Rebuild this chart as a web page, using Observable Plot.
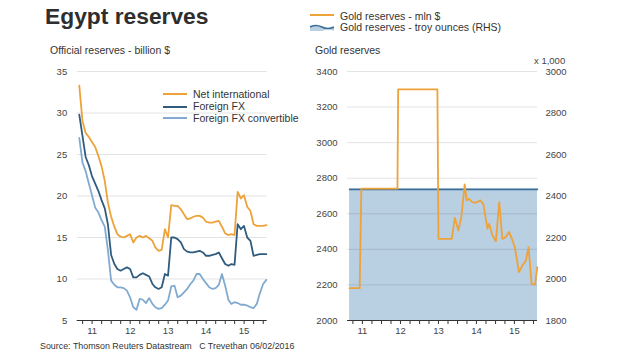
<!DOCTYPE html>
<html><head><meta charset="utf-8">
<script src="https://cdn.jsdelivr.net/npm/d3@7"></script>
<script src="https://cdn.jsdelivr.net/npm/@observablehq/plot@0.6"></script>
<style>
body{margin:0;background:#fff;font-family:"Liberation Sans",Arial,sans-serif;}
#wrap{position:relative;width:620px;height:355px;overflow:hidden;background:#fff;}
.t{position:absolute;white-space:nowrap;color:#333;line-height:1;font-size:10.5px;}
.pl{position:absolute;top:0;}
.sw{position:absolute;}
</style></head><body><div id="wrap"></div>
<script>
// ---------- data ----------
const months = ["2011-02","2011-03","2011-04","2011-05","2011-06","2011-07","2011-08","2011-09","2011-10","2011-11","2011-12",
"2012-01","2012-02","2012-03","2012-04","2012-05","2012-06","2012-07","2012-08","2012-09","2012-10","2012-11","2012-12",
"2013-01","2013-02","2013-03","2013-04","2013-05","2013-06","2013-07","2013-08","2013-09","2013-10","2013-11","2013-12",
"2014-01","2014-02","2014-03","2014-04","2014-05","2014-06","2014-07","2014-08","2014-09","2014-10","2014-11","2014-12",
"2015-01","2015-02","2015-03","2015-04","2015-05","2015-06","2015-07","2015-08","2015-09","2015-10","2015-11","2015-12",
"2016-01"];
const netIntl = [33.3,29.0,27.6,27.1,26.5,25.9,24.8,23.6,21.8,19.2,17.5,
16.3,15.4,15.1,15.0,15.2,15.4,14.4,15.0,15.2,15.0,15.2,14.9,
14.6,13.8,13.4,13.5,16.0,15.0,18.9,18.8,18.8,18.4,17.8,17.2,
17.3,17.5,17.6,17.6,17.4,16.9,16.8,16.8,16.9,17.0,16.3,15.5,
15.3,15.4,15.3,20.5,19.7,20.1,18.7,18.2,16.6,16.4,16.4,16.4,
16.5];
const foreignFX = [29.8,27.2,24.7,23.7,22.4,21.5,20.6,19.5,18.5,16.6,12.9,
11.8,11.2,11.0,11.2,11.4,11.2,10.2,10.2,10.5,10.7,10.5,10.3,
9.4,9.0,8.8,9.0,10.6,10.4,15.0,15.0,14.8,14.4,13.6,13.3,
13.2,13.2,13.3,13.4,13.2,12.8,12.8,12.9,13.0,13.2,12.5,11.8,
11.6,11.8,11.7,16.6,16.0,16.4,15.0,14.6,12.8,12.9,13.0,13.0,
13.0];
const fxConvertible = [27.0,24.0,23.0,21.5,20.1,18.6,18.0,17.1,16.3,13.5,9.8,
9.3,9.0,9.0,8.9,8.6,7.8,6.6,6.3,7.6,7.5,7.1,7.7,
7.0,6.6,6.4,6.5,6.9,7.4,9.1,9.2,7.8,8.0,8.4,8.8,
9.4,9.8,10.6,10.6,10.0,9.5,9.0,8.8,8.9,9.3,10.6,9.2,
7.5,7.0,7.2,7.1,6.9,6.9,6.8,6.6,6.5,7.0,8.3,9.4,
9.9];
const goldDates = ["2011-02-28","2011-06-05","2011-06-21","2012-06-02","2012-06-09","2013-06-21","2013-07-01","2013-11-06",
"2013-12-06","2014-01-08","2014-02-06","2014-03-10","2014-03-29","2014-04-20","2014-05-22","2014-06-24","2014-08-07",
"2014-09-05","2014-10-15","2014-10-31","2014-12-02","2015-01-04","2015-02-05","2015-03-07","2015-04-09","2015-05-11",
"2015-06-13","2015-07-05","2015-08-14","2015-09-16","2015-10-19","2015-11-14","2015-12-13","2016-01-15","2016-02-06"];
const goldMln = [2182,2182,2741,2741,3300,3300,2459,2459,
2577,2506,2581,2765,2675,2684,2666,2662,2675,
2656,2516,2544,2478,2446,2666,2459,2469,2497,
2450,2412,2272,2309,2337,2412,2206,2202,2300];
const goldOuncesThousand = 2432;
const ounceDates = ["2011-02-28","2016-02-08"];
const yearLabels = ["11","12","13","14","15"];
const leftTicks = [5,10,15,20,25,30,35];
const goldLeftTicks = [2000,2200,2400,2600,2800,3000,3200,3400];
const goldRightTicks = [1800,2000,2200,2400,2600,2800,3000];

// ---------- helpers ----------
const C = {orange:"#eea23a", dark:"#2f5c7e", light:"#80aad0", fill:"#b9cfe2", fillLine:"#3b6e9a", text:"#3a3a3a"};
const FONT = '"Liberation Sans", Arial, sans-serif';
const monthEnd = s => { const [y,m] = s.split("-").map(Number); return new Date(Date.UTC(y, m, 0)); };
const parseDay = d3.utcParse("%Y-%m-%d");
const dates = months.map(monthEnd);
const rows = (arr) => arr.map((v,i) => ({date: dates[i], value: v}));
const xDomain = [new Date(Date.UTC(2011,1,8)), new Date(Date.UTC(2016,1,8))];
const qTicks = d3.utcMonth.every(3).range(xDomain[0], xDomain[1]);
const yearMid = yearLabels.map(l => new Date(Date.UTC(2000 + (+l), 6, 1)));
// right axis (troy ounces, thousands) mapped onto the left gold scale
const toLeft = v => 2000 + (v - 1800) * 1400 / 1200;
const fromLeft = v => Math.round(1800 + (v - 2000) * 1200 / 1400);

const commonX = () => [
  Plot.axisX(qTicks, {tickSize: 4, tickFormat: () => "", stroke: "#333", label: null}),
  Plot.axisX(yearMid, {tickSize: 0, tickPadding: 7, label: null, tickFormat: d => yearLabels[yearMid.findIndex(m => +m === +d)], fontSize: 9.5, fill: "#444"})
];

const left = Plot.plot({
  width: 300, height: 345,
  marginLeft: 76.7, marginRight: 33.3, marginTop: 71, marginBottom: 25,
  x: {type: "utc", domain: xDomain, label: null},
  y: {domain: [5, 35], label: null},
  style: {fontFamily: FONT, background: "transparent", overflow: "visible"},
  marks: [
    Plot.gridY(leftTicks.slice(1), {stroke: "#000", strokeOpacity: 0.11}),
    Plot.axisY(leftTicks, {tickSize: 0, tickPadding: 10, fontSize: 9.5, fill: "#444", label: null, tickFormat: d => String(d)}),
    ...commonX(),
    Plot.ruleY([5], {stroke: "#333"}),
    Plot.lineY(rows(fxConvertible), {x: "date", y: "value", stroke: C.light, strokeWidth: 1.8}),
    Plot.lineY(rows(foreignFX), {x: "date", y: "value", stroke: C.dark, strokeWidth: 1.8}),
    Plot.lineY(rows(netIntl), {x: "date", y: "value", stroke: C.orange, strokeWidth: 1.8})
  ]
});

const goldRows = goldDates.map((d,i) => ({date: parseDay(d), value: goldMln[i]}));
const ounceRows = ounceDates.map(d => ({date: parseDay(d), value: goldOuncesThousand}));

const right = Plot.plot({
  width: 320, height: 345,
  marginLeft: 47, marginRight: 83, marginTop: 71, marginBottom: 25,
  x: {type: "utc", domain: xDomain, label: null},
  y: {domain: [2000, 3400], label: null},
  style: {fontFamily: FONT, background: "transparent", overflow: "visible"},
  marks: [
    Plot.areaY(ounceRows, {x: "date", y1: () => 2000, y2: d => toLeft(d.value), fill: C.fill}),
    Plot.gridY(goldLeftTicks.slice(1), {stroke: "#000", strokeOpacity: 0.11}),
    Plot.lineY(ounceRows, {x: "date", y: d => toLeft(d.value), stroke: C.fillLine, strokeWidth: 1.6}),
    Plot.axisY(goldLeftTicks, {tickSize: 0, tickPadding: 10, fontSize: 9.5, fill: "#444", label: null, tickFormat: d => String(d)}),
    Plot.axisY(goldRightTicks.map(toLeft), {anchor: "right", tickSize: 0, tickPadding: 8, fontSize: 9.5, fill: "#444", label: null, tickFormat: d => String(fromLeft(d))}),
    ...commonX(),
    Plot.ruleY([2000], {stroke: "#333"}),
    Plot.lineY(goldRows, {x: "date", y: "value", stroke: C.orange, strokeWidth: 1.8})
  ]
});

// ---------- layout ----------
const wrap = document.getElementById("wrap");
const place = (node, l) => { const d = document.createElement("div"); d.className = "pl"; d.style.left = l + "px"; d.appendChild(node); wrap.appendChild(d); };
place(left, 0);
place(right, 300);

const txt = (s, l, t, extra = "") => { const d = document.createElement("div"); d.className = "t"; d.style.left = l + "px"; d.style.top = t + "px"; if (extra) d.style.cssText += extra; d.textContent = s; wrap.appendChild(d); return d; };
const swatch = (l, t, color, wave) => {
  const ns = "http://www.w3.org/2000/svg";
  const s = document.createElementNS(ns, "svg");
  s.setAttribute("width", 24); s.setAttribute("height", 8);
  s.setAttribute("class", "sw"); s.style.left = l + "px"; s.style.top = t + "px";
  if (wave) {
    const f = document.createElementNS(ns, "path");
    f.setAttribute("d", "M0,4 Q6,1 12,4 T24,4 L24,8 Q18,5 12,8 T0,8 Z"); f.setAttribute("fill", C.fill);
    s.appendChild(f);
    const p = document.createElementNS(ns, "path");
    p.setAttribute("d", "M0,4 Q6,1 12,4 T24,4"); p.setAttribute("fill", "none"); p.setAttribute("stroke", color); p.setAttribute("stroke-width", 1.6);
    s.appendChild(p);
  } else {
    const p = document.createElementNS(ns, "line");
    p.setAttribute("x1", 0); p.setAttribute("x2", 24); p.setAttribute("y1", 4); p.setAttribute("y2", 4);
    p.setAttribute("stroke", color); p.setAttribute("stroke-width", 2);
    s.appendChild(p);
  }
  wrap.appendChild(s);
};

txt("Egypt reserves", 45, 5.3, "font-size:22.8px;font-weight:bold;color:#2e2e2e;");
txt("Official reserves - billion $", 50, 45.1);
txt("Gold reserves", 315, 45.1);
swatch(310, 11, C.orange, false);
txt("Gold reserves - mln $", 340, 10.6);
swatch(310, 23, C.fillLine, true);
txt("Gold reserves - troy ounces (RHS)", 340, 22.1);
txt("x 1,000", 534, 56, "font-size:9.5px;color:#444;");

swatch(163, 90.3, C.orange, false);
txt("Net international", 193, 89.1);
swatch(163, 102.7, C.dark, false);
txt("Foreign FX", 193, 101);
swatch(163, 114.3, C.light, false);
txt("Foreign FX convertible", 193, 112.8);

txt("Source: Thomson Reuters Datastream\u00a0\u00a0\u00a0C Trevethan 06/02/2016", 40, 341.5, "font-size:8.9px;");
</script>
</body></html>
